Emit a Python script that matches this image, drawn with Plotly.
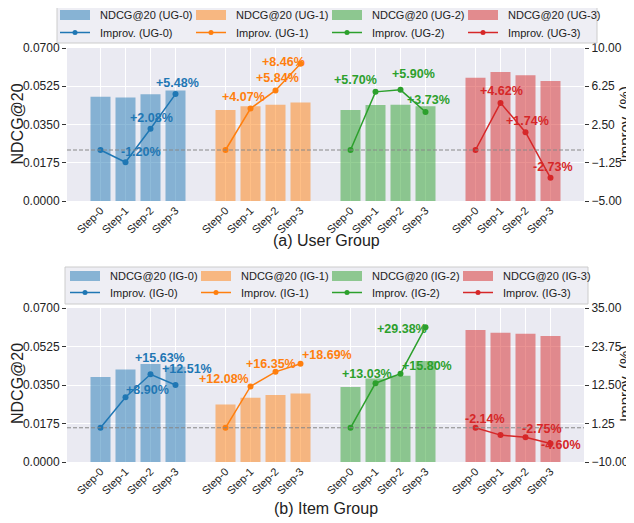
import plotly.graph_objects as go

STEPS = ["Step-0", "Step-1", "Step-2", "Step-3"]
COLORS = ["#1f77b4", "#ff7f0e", "#2ca02c", "#d62728"]

UG_NAMES = ["UG-0", "UG-1", "UG-2", "UG-3"]
UG_NDCG = [
    [0.0477, 0.0473, 0.0488, 0.0505],
    [0.0416, 0.0433, 0.0440, 0.0451],
    [0.0416, 0.0439, 0.0440, 0.0433],
    [0.0564, 0.0590, 0.0575, 0.0549],
]
UG_IMPROV = [
    [0.0, -1.20, 2.08, 5.48],
    [0.0, 4.07, 5.84, 8.46],
    [0.0, 5.70, 5.90, 3.73],
    [0.0, 4.62, 1.74, -2.73],
]

IG_NAMES = ["IG-0", "IG-1", "IG-2", "IG-3"]
IG_NDCG = [
    [0.0386, 0.0420, 0.0445, 0.0433],
    [0.0261, 0.0292, 0.0305, 0.0311],
    [0.0341, 0.0380, 0.0392, 0.0459],
    [0.0600, 0.0588, 0.0583, 0.0573],
]
IG_IMPROV = [
    [0.0, 8.90, 15.63, 12.51],
    [0.0, 12.08, 16.35, 18.69],
    [0.0, 13.03, 15.80, 29.38],
    [0.0, -2.14, -2.75, -4.60],
]

# pixel offsets (dx, dy) of the % labels for Step-1..3, screen coords
UG_SHIFT = [
    [(15, -10), (1, -11), (2, -11)],
    [(-7, -11), (2, -12), (-17, -2)],
    [(-20, -12), (13, -16), (3, -12)],
    [(1, -12), (2, -11), (2, -11)],
]
IG_SHIFT = [
    [(22, -7), (9, -16), (11, -16)],
    [(-27, -7), (-5, -8), (26, -9)],
    [(-9, -9), (26, -8), (-24, 2)],
    [(-16, -16), (16, -8), (10, 1.5)],
]

FONT = "Arial, Liberation Sans, sans-serif"
PAGE_W, PAGE_H = 634, 523
BODY = 8  # default page margin around the plot div
W, H = PAGE_W - BODY, PAGE_H - BODY
GAP = 5  # slot spacing between groups
BAR_ALPHA = 0.5


def px_x(p):
    # page pixel -> paper fraction
    return (p - BODY) / W


def px_y(p):
    return 1 - (p - BODY) / H


fig = go.Figure()
annotations = []
shapes = []


def add_panel(names, ndcg, improv, shifts, xa, ya, ya2):
    for g, name in enumerate(names):
        xs = [g * GAP + s for s in range(len(STEPS))]
        fig.add_trace(go.Bar(
            x=xs, y=ndcg[g], width=0.8, name=f"NDCG@20 ({name})",
            marker=dict(color=COLORS[g], opacity=BAR_ALPHA, line=dict(width=0)),
            xaxis=xa, yaxis=ya, showlegend=False,
        ))
    for g, name in enumerate(names):
        xs = [g * GAP + s for s in range(len(STEPS))]
        fig.add_trace(go.Scatter(
            x=xs, y=improv[g], mode="lines+markers", name=f"Improv. ({name})",
            line=dict(color=COLORS[g], width=1.5), marker=dict(size=6),
            xaxis=xa, yaxis=ya2, showlegend=False,
        ))
        for s in range(1, len(STEPS)):
            dx, dy = shifts[g][s - 1]
            annotations.append(dict(
                x=xs[s], y=improv[g][s], xref=xa, yref=ya2,
                text=f"{improv[g][s]:+.2f}%", showarrow=False,
                xanchor="center", yanchor="middle",
                xshift=dx, yshift=-dy,
                font=dict(family=FONT, size=12.5, color=COLORS[g], weight="bold"),
            ))


add_panel(UG_NAMES, UG_NDCG, UG_IMPROV, UG_SHIFT, "x", "y", "y2")
add_panel(IG_NAMES, IG_NDCG, IG_IMPROV, IG_SHIFT, "x2", "y3", "y4")

tickpos = [g * GAP + s for g in range(4) for s in range(len(STEPS))]
ticktext = STEPS * 4
xdom = [px_x(67), px_x(584)]

xcommon = dict(
    domain=xdom, range=[-1.34, 19.34], tickvals=tickpos, ticktext=ticktext,
    tickangle=-45, showgrid=True, gridcolor="white", gridwidth=1,
    zeroline=False, showline=False, ticks="", automargin=False,
    tickfont=dict(size=11, color="#222"),
)
ycommon = dict(
    range=[0, 0.07], tickvals=[0, 0.0175, 0.035, 0.0525, 0.07],
    tickformat=".4f", showgrid=True, gridcolor="white", gridwidth=1,
    zeroline=False, showline=False, ticks="outside", ticklen=4,
    tickcolor="#333", automargin=False, tickfont=dict(size=12, color="#222"),
)
rcommon = dict(
    side="right", showgrid=False, zeroline=False, showline=False,
    ticks="outside", ticklen=4, tickcolor="#333", tickformat=".2f",
    automargin=False, tickfont=dict(size=12, color="#222"),
)

fig.update_layout(
    xaxis=dict(anchor="y", **xcommon),
    yaxis=dict(anchor="x", domain=[px_y(201), px_y(48)], **ycommon),
    yaxis2=dict(anchor="x", overlaying="y", range=[-5, 10],
                tickvals=[-5, -1.25, 2.5, 6.25, 10], **rcommon),
    xaxis2=dict(anchor="y3", **xcommon),
    yaxis3=dict(anchor="x2", domain=[px_y(462), px_y(308)], **ycommon),
    yaxis4=dict(anchor="x2", overlaying="y3", range=[-10, 35],
                tickvals=[-10, 1.25, 12.5, 23.75, 35], **rcommon),
)

# zero line of the improvement axes
for xa, ya in [("x", "y2"), ("x2", "y4")]:
    shapes.append(dict(type="line", xref=f"{xa} domain", yref=ya,
                       x0=0, x1=1, y0=0, y1=0,
                       line=dict(color="#888", width=1, dash="4px,2px")))


def paper_text(text, x, y, angle=0, size=16, anchor="center", color="#222"):
    annotations.append(dict(
        x=px_x(x), y=px_y(y), xref="paper", yref="paper", text=text,
        textangle=angle, showarrow=False, xanchor=anchor, yanchor="middle",
        font=dict(size=size, color=color),
    ))


def paper_rect(x0, y0, x1, y1, kind="rect", **kw):
    shapes.append(dict(type=kind, xref="paper", yref="paper",
                       x0=px_x(x0), x1=px_x(x1), y0=px_y(y1), y1=px_y(y0), **kw))


# axis titles and captions
for yc in [124.5, 384]:
    paper_text("NDCG@20", 17, yc, -90)
    paper_text("Improv. (%)", 624, yc, -90, size=15)
paper_text("(a) User Group", 326, 240)
paper_text("(b) Item Group", 326, 508)


# legends (4 columns x 2 rows, drawn in page pixels like the reference)
def draw_legend(names, box, col0, pitch, rows):
    paper_rect(*box, fillcolor="rgb(238,238,244)", line=dict(color="#cccccc", width=1),
               layer="above")
    r_bar, r_line = rows
    for g, name in enumerate(names):
        xs = col0 + g * pitch
        paper_rect(xs, r_bar - 5, xs + 30, r_bar + 5, fillcolor=COLORS[g],
                   opacity=BAR_ALPHA, line=dict(width=0), layer="above")
        shapes.append(dict(type="line", xref="paper", yref="paper",
                           x0=px_x(xs), x1=px_x(xs + 30), y0=px_y(r_line), y1=px_y(r_line),
                           line=dict(color=COLORS[g], width=1.5), layer="above"))
        paper_rect(xs + 12.5, r_line - 2.5, xs + 17.5, r_line + 2.5, kind="circle",
                   fillcolor=COLORS[g], line=dict(width=0), layer="above")
        paper_text(f"NDCG@20 ({name})", xs + 38, r_bar, size=11, anchor="left")
        paper_text(f"Improv. ({name})", xs + 38, r_line, size=11, anchor="left")


draw_legend(UG_NAMES, (57, 5, 597, 43), 60, 136, (15, 32.5))
draw_legend(IG_NAMES, (65, 267, 588, 304), 70, 131, (276, 292.5))

fig.update_layout(
    width=W, height=H,
    margin=dict(l=0, r=0, t=0, b=0),
    paper_bgcolor="white", plot_bgcolor="#EAEAF2",
    font=dict(family=FONT, color="#222"),
    barmode="overlay", showlegend=False,
    annotations=annotations, shapes=shapes,
)

fig.write_html("out.html")
